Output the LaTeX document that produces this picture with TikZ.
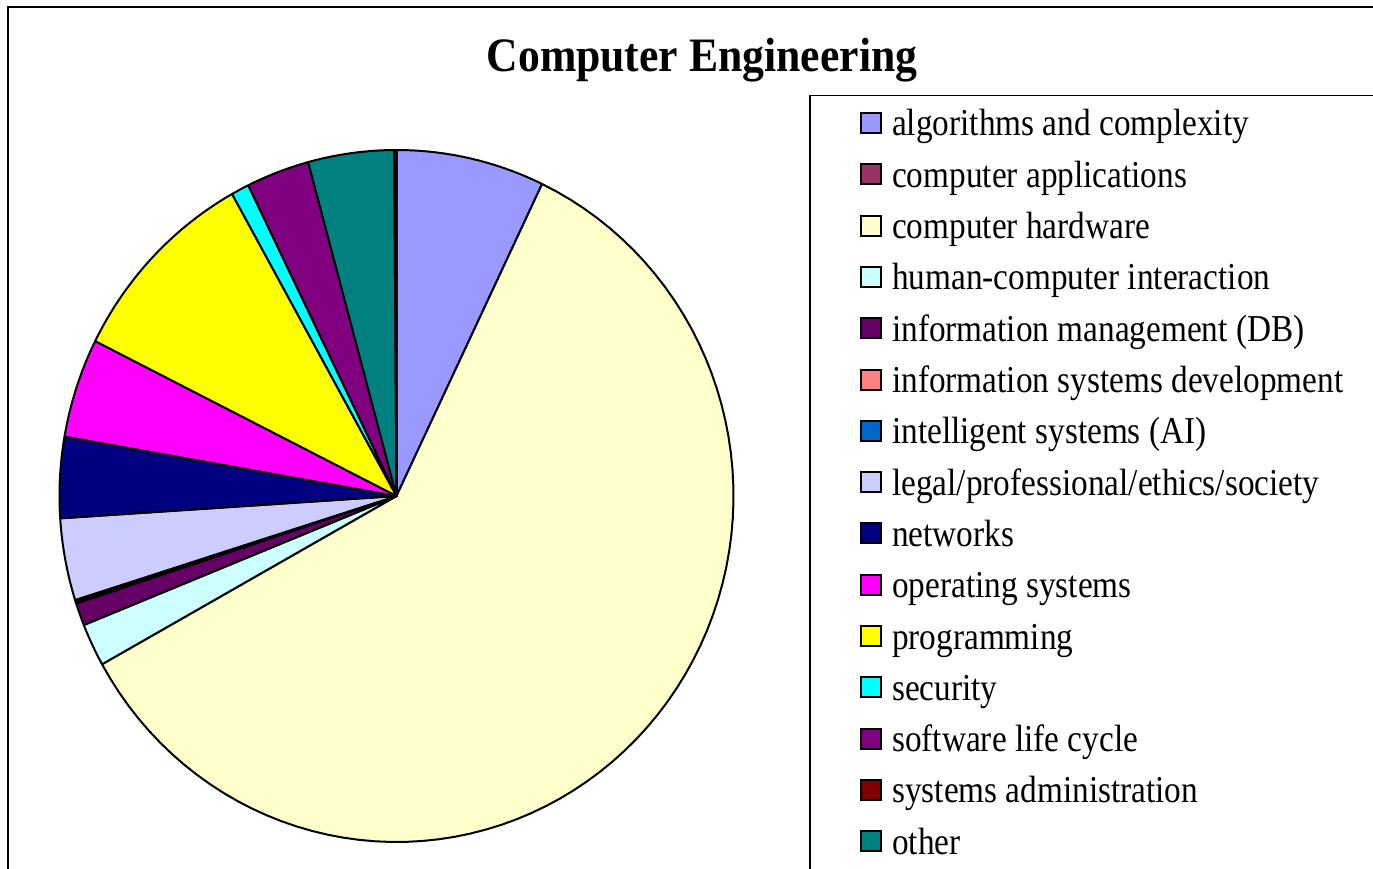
\documentclass[tikz,border=0pt]{standalone}
\usepackage{fontspec}
\setmainfont{Liberation Serif}
\newfontfamily\legfont[FakeStretch=0.876]{Liberation Serif}
\newfontfamily\titlefont[FakeStretch=0.91]{Liberation Serif}
\definecolor{calg}{HTML}{9999FF}
\definecolor{capp}{HTML}{993366}
\definecolor{chw}{HTML}{FFFFCC}
\definecolor{chci}{HTML}{CCFFFF}
\definecolor{cim}{HTML}{660066}
\definecolor{cisd}{HTML}{FF8080}
\definecolor{cai}{HTML}{0066CC}
\definecolor{clegal}{HTML}{CCCCFF}
\definecolor{cnet}{HTML}{000080}
\definecolor{cos}{HTML}{FF00FF}
\definecolor{cprog}{HTML}{FFFF00}
\definecolor{csec}{HTML}{00FFFF}
\definecolor{cslc}{HTML}{800080}
\definecolor{csys}{HTML}{800000}
\definecolor{cother}{HTML}{008080}
\tikzset{
  slicestyle/.style={draw=black, line width=2pt, line join=round},
  legmark/.style={draw=black, line width=2pt, minimum width=20pt, minimum height=20pt, inner sep=0pt},
  legtext/.style={anchor=base west, inner sep=0pt, font=\legfont\fontsize{38}{44}\selectfont},
  frameline/.style={draw=black, line width=2.2pt},
}
\begin{document}
\begin{tikzpicture}[x=1pt,y=-1pt]
\useasboundingbox (0,0) rectangle (1373,869);
\fill[white] (0,0) rectangle (1373,869);
\draw[frameline] (8,869) -- (8,7) -- (1373,7);
\draw[frameline, line width=1.8pt] (810,869) -- (810,95.5) -- (1373,95.5);
\node[anchor=base, inner sep=0pt, font=\titlefont\bfseries\fontsize{48}{54}\selectfont] (title) at (702,72) {Computer Engineering};
\coordinate (c) at (396.5,496);
\foreach \a/\b/\col in {0/25.6/calg, 25.6/240.9/chw, 240.9/248.1/chci, 248.1/251.9/cim, 251.9/252.2/cisd, 252.2/252.5/cai, 252.5/266.3/clegal, 266.3/279.9/cnet, 279.9/296.6/cos, 296.6/330.8/cprog, 330.8/333.9/csec, 333.9/344.8/cslc, 344.8/359.6/cother, 359.6/360/csys}{
  \filldraw[slicestyle, fill=\col] (c) -- plot[domain=\a:\b, samples=80, variable=\t] ({396.5+337*sin(\t)},{496-346*cos(\t)}) -- cycle;
}
\foreach \i/\col in {0/calg, 1/capp, 2/chw, 3/chci, 4/cim, 5/cisd, 6/cai, 7/clegal, 8/cnet, 9/cos, 10/cprog, 11/csec, 12/cslc, 13/csys, 14/cother}{
  \node[legmark, fill=\col] (m\i) at (870.5,{123+51.3*\i}) {};
}
\node[legtext] (t0) at (892,136) {algorithms and complexity};
\node[legtext] (t1) at (892,187.3) {computer applications};
\node[legtext] (t2) at (892,238.6) {computer hardware};
\node[legtext] (t3) at (892,289.9) {human-computer interaction};
\node[legtext] (t4) at (892,341.2) {information management (DB)};
\node[legtext] (t5) at (892,392.5) {information systems development};
\node[legtext] (t6) at (892,443.8) {intelligent systems (AI)};
\node[legtext] (t7) at (892,495.1) {legal/professional/ethics/society};
\node[legtext] (t8) at (892,546.4) {networks};
\node[legtext] (t9) at (892,597.7) {operating systems};
\node[legtext] (t10) at (892,649) {programming};
\node[legtext] (t11) at (892,700.3) {security};
\node[legtext] (t12) at (892,751.6) {software life cycle};
\node[legtext] (t13) at (892,802.9) {systems administration};
\node[legtext] (t14) at (892,854.2) {other};
\end{tikzpicture}
\end{document}
